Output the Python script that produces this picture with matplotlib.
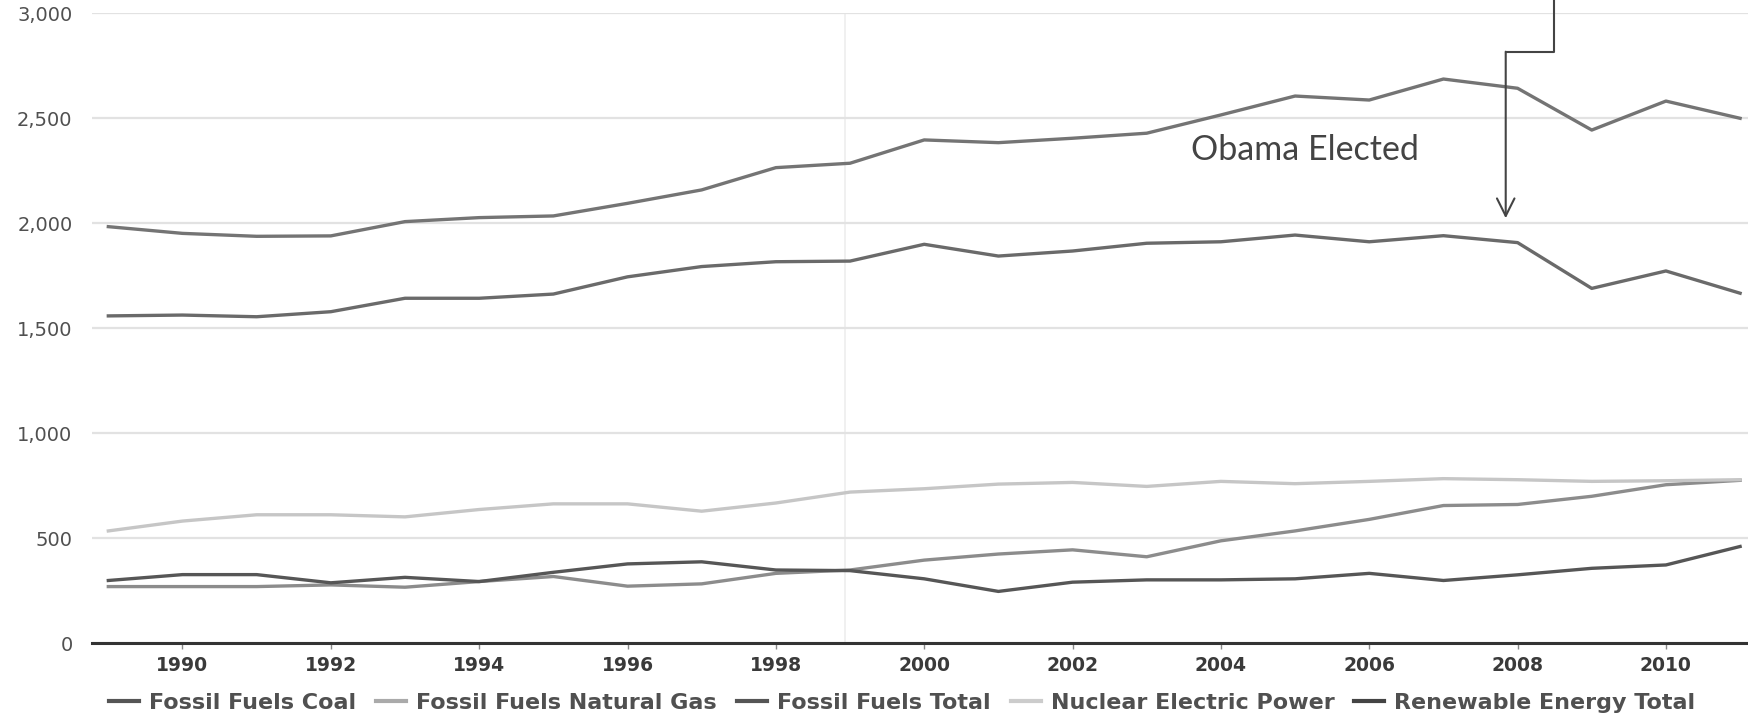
import matplotlib
matplotlib.use("Agg")
import matplotlib.pyplot as plt

# values
years = list(range(1989, 2012))
coal = [1559, 1563, 1555, 1579, 1643, 1643, 1663, 1745, 1794, 1817, 1820, 1900,
        1844, 1868, 1905, 1912, 1944, 1912, 1941, 1908, 1690, 1773, 1667]
natural_gas = [270, 270, 270, 278, 267, 294, 318, 272, 283, 333, 349, 396,
               425, 445, 412, 488, 535, 590, 656, 661, 700, 755, 776]
fossil_total = [1984, 1952, 1938, 1940, 2008, 2027, 2035, 2095, 2159, 2265, 2286, 2397,
                2384, 2405, 2429, 2516, 2606, 2587, 2687, 2643, 2444, 2582, 2500]
nuclear = [535, 582, 612, 612, 602, 637, 664, 664, 629, 668, 720, 736,
           758, 766, 747, 771, 760, 771, 784, 779, 771, 774, 779]
renewable = [299, 327, 327, 288, 314, 294, 338, 378, 388, 349, 346, 307,
             247, 291, 302, 302, 307, 333, 299, 326, 357, 373, 461]

series_names = ["Fossil Fuels Coal", "Fossil Fuels Natural Gas", "Fossil Fuels Total",
                "Nuclear Electric Power", "Renewable Energy Total"]
yticks = [0, 500, 1000, 1500, 2000, 2500, 3000]
xticks = list(range(1990, 2011, 2))

# annotation
note_text = "Obama Elected"
note_x, note_y = 2005.13, 2350
arrow_x, arrow_top, arrow_tip = 2007.84, 2817, 2024
elbow_x, elbow_top = 2008.49, 3070

fig = plt.figure(figsize=(17.49, 7.15), dpi=100)
ax = fig.add_axes([92 / 1749, 0.1003, 1 - 92 / 1749, 0.8811])

colors = ["#6a6a6a", "#8c8c8c", "#747474", "#c6c6c6", "#565656"]
data = [coal, natural_gas, fossil_total, nuclear, renewable]
for name, vals, c in zip(series_names, data, colors):
    ax.plot(years, vals, color=c, lw=2.4, label=name, solid_joinstyle="round")

ax.set_xlim(1988.78, 2011.12)
ax.set_ylim(0, 3000)
ax.set_yticks(yticks)
ax.set_yticklabels([f"{v:,}" for v in yticks], fontsize=14, color="#505050")
ax.set_xticks(xticks)
ax.set_xticklabels([str(y) for y in xticks], fontsize=13.5, color="#3a3a3a", fontweight="bold")
ax.tick_params(axis="y", length=0, pad=14)
ax.tick_params(axis="x", length=4, width=1, color="#888888", pad=5)

ax.grid(axis="y", color="#e2e2e2", lw=1.6)
ax.axvline(1998.93, color="#ededed", lw=1.2, zorder=0)
ax.set_axisbelow(True)
for s in ["top", "right", "left"]:
    ax.spines[s].set_visible(False)
ax.spines["bottom"].set_color("#333333")
ax.spines["bottom"].set_linewidth(2.2)

# elbow arrow pointing at 2008
ax.plot([elbow_x, elbow_x, arrow_x], [elbow_top, arrow_top, arrow_top],
        color="#444444", lw=1.5, clip_on=False)
ax.annotate("", xy=(arrow_x, arrow_tip), xytext=(arrow_x, arrow_top),
            arrowprops=dict(arrowstyle="->,head_length=0.7,head_width=0.35",
                            color="#444444", lw=1.5, mutation_scale=18,
                            shrinkA=0, shrinkB=0),
            annotation_clip=False)
ax.text(note_x, note_y, note_text, ha="center", va="center",
        fontsize=24.5, color="#444444", family="Lato")

leg = fig.legend(loc="center", bbox_to_anchor=(0.516, 1 - 703 / 715), ncol=5,
                 frameon=False, prop={"size": 16, "weight": "bold"},
                 handlelength=1.35, handletextpad=0.45, columnspacing=0.9)
leg_colors = ["#555555", "#aaaaaa", "#555555", "#cccccc", "#444444"]
for h, c in zip(leg.legend_handles, leg_colors):
    h.set_color(c)
    h.set_linewidth(3)
for t in leg.get_texts():
    t.set_color("#505050")

fig.savefig("out.png", dpi=100)
